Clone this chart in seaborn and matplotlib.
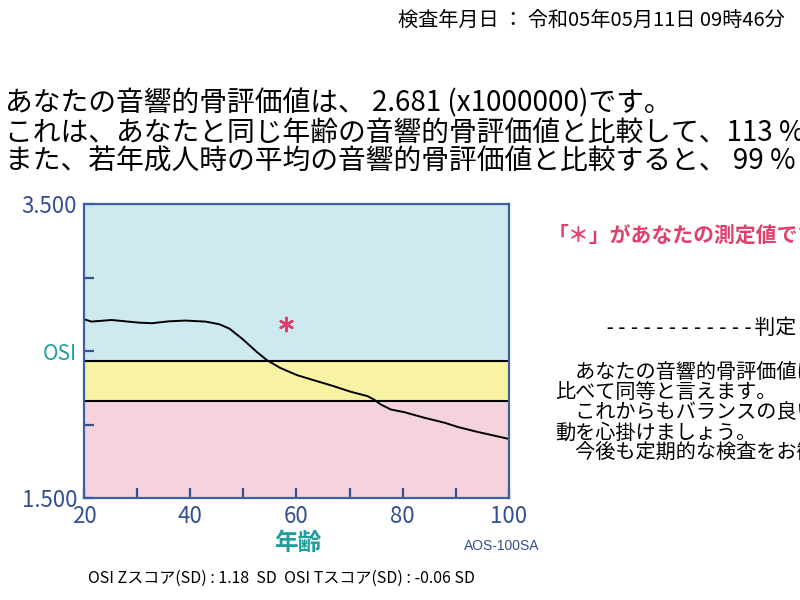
import numpy as np
import pandas as pd
import seaborn as sns
import matplotlib.pyplot as plt

# age curve (reference mean OSI by age)
ages = [20, 21.4, 25.2, 30.3, 32.8, 36, 39.1, 42.9, 45.5, 47.4, 49.9, 52.5, 54.4,
        56.9, 60.1, 63.2, 67, 70.2, 73.4, 74.6, 75.9, 77.8, 80.3, 84.2, 88, 90.5,
        94.3, 100]
osi_mean = [2.716, 2.70, 2.711, 2.693, 2.689, 2.702, 2.707, 2.70, 2.682, 2.652,
            2.58, 2.495, 2.439, 2.386, 2.336, 2.302, 2.261, 2.223, 2.193, 2.17,
            2.136, 2.102, 2.084, 2.045, 2.011, 1.982, 1.948, 1.902]

# judgement bands
band_top = 2.43
band_low = 2.16

# measured value
my_age = [58]
my_osi = [2.681]

x_ticks = [20, 30, 40, 50, 60, 70, 80, 90, 100]
x_ticklabels = ['20', '', '40', '', '60', '', '80', '', '100']
y_ticks = [1.5, 2.0, 2.5, 3.0, 3.5]
y_ticklabels = ['1.500', '', 'OSI', '', '3.500']

blue = '#34508f'
teal = '#1f9e9e'
pink = '#e2406c'

plt.rcParams['font.family'] = ['Noto Sans CJK JP', 'DejaVu Sans']

fig = plt.figure(figsize=(8, 6), dpi=100)
ax = fig.add_axes([0.105, 0.17, 0.531, 0.49])

ax.axhspan(band_top, 3.5, color='#cdeaf0', lw=0, zorder=0)
ax.axhspan(band_low, band_top, color='#f8f3a2', lw=0, zorder=0)
ax.axhspan(1.5, band_low, color='#f4d3dc', lw=0, zorder=0)
ax.axhline(band_top, color='black', lw=1.5)
ax.axhline(band_low, color='black', lw=1.5)

df = pd.DataFrame({'age': ages, 'osi': osi_mean})
sns.lineplot(data=df, x='age', y='osi', ax=ax, color='black', lw=1.4)
ax.scatter(my_age, my_osi, marker=(6, 2, 0), s=90, color=pink, lw=1.8, zorder=5)

ax.set_xlim(20, 100)
ax.set_ylim(1.5, 3.5)
ax.set_xticks(x_ticks)
ax.set_xticklabels(x_ticklabels)
ax.set_yticks(y_ticks)
ax.set_yticklabels(y_ticklabels)
ax.tick_params(axis='both', direction='in', length=7, width=1.6, color=blue,
               labelcolor=blue, labelsize=16, pad=5)
for lab in ax.get_yticklabels():
    if lab.get_text() == 'OSI':
        lab.set_color(teal)
        lab.set_fontsize(15)
for s in ax.spines.values():
    s.set_color('#3f5fa5')
    s.set_linewidth(1.6)
ax.set_xlabel('')
ax.set_ylabel('')

fig.text(298 / 800, 1 - 543 / 600, '年齢', color=teal, fontsize=17,
         ha='center', va='center', fontweight='bold')
fig.text(502 / 800, 1 - 546 / 600, 'AOS-100SA', color=blue, fontsize=10,
         ha='center', va='center', family='Liberation Sans')
fig.text(88 / 800, 1 - 578 / 600,
         'OSI Zスコア(SD) : 1.18  SD  OSI Tスコア(SD) : -0.06 SD',
         fontsize=11.5, ha='left', va='center')

# header
fig.text(785 / 800, 1 - 20 / 600, '検査年月日 ： 令和05年05月11日 09時46分',
         fontsize=14.5, ha='right', va='center')
fig.text(5 / 800, 1 - 103 / 600, 'あなたの音響的骨評価値は、 2.681 (x1000000)です。',
         fontsize=20, ha='left', va='center')
fig.text(5 / 800, 1 - 133 / 600, 'これは、あなたと同じ年齢の音響的骨評価値と比較して、113 %',
         fontsize=20, ha='left', va='center')
fig.text(5 / 800, 1 - 162 / 600, 'また、若年成人時の平均の音響的骨評価値と比較すると、 99 %',
         fontsize=20, ha='left', va='center')

# right panel
fig.text(548 / 800, 1 - 235 / 600, '「＊」があなたの測定値です。', color=pink,
         fontsize=15, fontweight='bold', ha='left', va='center')
fig.text(603 / 800, 1 - 328 / 600, '------------判定------------',
         fontsize=15, ha='left', va='center',
         family=['DejaVu Sans Mono', 'Noto Sans CJK JP'])
para = ['　あなたの音響的骨評価値は、同年齢の人と',
        '比べて同等と言えます。',
        '　これからもバランスの良い食事と適度な運',
        '動を心掛けましょう。',
        '　今後も定期的な検査をお勧めします。']
for i, line in enumerate(para):
    fig.text(555 / 800, 1 - (373 + 20 * i) / 600, line, fontsize=14.5,
             ha='left', va='center')

fig.savefig('out.png', dpi=100, facecolor='white')
